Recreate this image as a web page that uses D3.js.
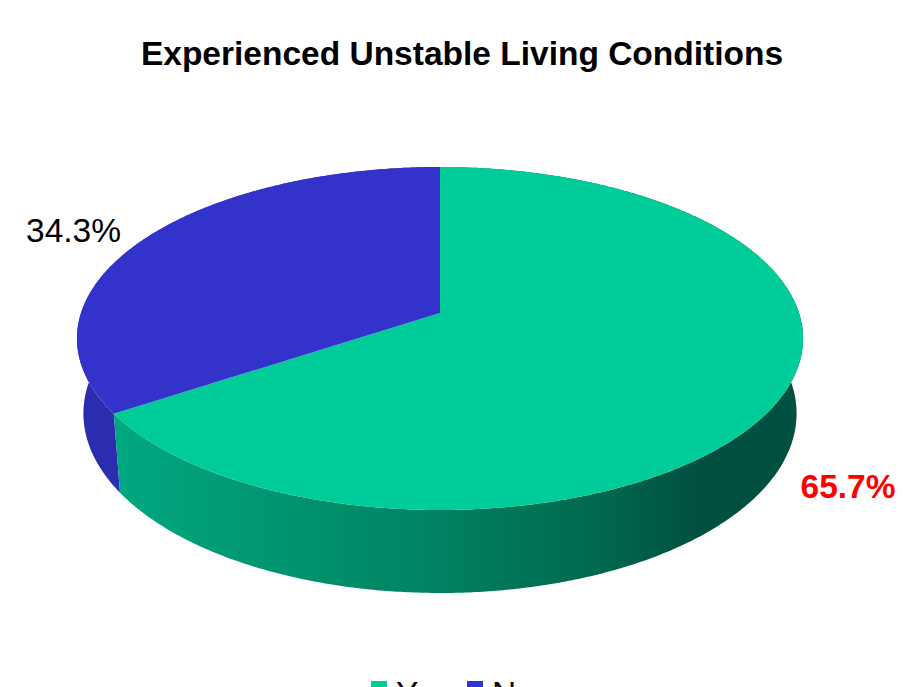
<!DOCTYPE html>
<html>
<head>
<meta charset="utf-8">
<script src="https://cdn.jsdelivr.net/npm/d3@7"></script>
<style>
html, body { margin: 0; padding: 0; background: #fff; overflow: hidden; }
text { font-family: "Liberation Sans", Arial, sans-serif; }
</style>
</head>
<body>
<svg id="chart" width="915" height="687"></svg>
<script>
var categories = ['Yes', 'No'];
var values = [65.7, 34.3];
var labels = ['65.7%', '34.3%'];
var topColors = ['#00cc99', '#3333cc'];
var wallColor = '#2c2cb0';
// shading of the green wall, left to right
var wallStops = [[0, '#00a880'], [0.45, '#008463'], [0.72, '#00664c'], [0.85, '#005040'], [1, '#005040']];

var svg = d3.select('#chart');

// the pie is a unit disc seen in perspective
var cx = 440, cy = 313;
var A = 359, B = 167.7, D = 75.6, k = 0.1487, m = 0.0177;
function project(angle, r, z) {
    var u = r * Math.sin(angle);
    var v = r * Math.cos(angle);
    var w = 1 + k * v + m * z;
    return [cx + A * u / w, cy + (-B * v + D * z) / w];
}

var slices = d3.pie().sort(null)(values);
var line = d3.line().curve(d3.curveLinearClosed);

function arcAngles(s) {
    var n = Math.ceil((s.endAngle - s.startAngle) * 120);
    return d3.range(n + 1).map(function (i) {
        return s.startAngle + (s.endAngle - s.startAngle) * i / n;
    });
}

var defs = svg.append('defs');
var grad = defs.append('linearGradient')
    .attr('id', 'wallGreen')
    .attr('gradientUnits', 'userSpaceOnUse')
    .attr('x1', 113).attr('x2', 803).attr('y1', 0).attr('y2', 0);
grad.selectAll('stop')
    .data(wallStops)
    .enter().append('stop')
    .attr('offset', function (d) { return d[0]; })
    .attr('stop-color', function (d) { return d[1]; });

// walls first, top faces are painted over them
svg.append('g').selectAll('path')
    .data(slices.slice().reverse())
    .enter().append('path')
    .attr('d', function (d) {
        var a = arcAngles(d);
        var top = a.map(function (t) { return project(t, 1, 0); });
        var bottom = a.slice().reverse().map(function (t) { return project(t, 1, 1); });
        return line(top.concat(bottom));
    })
    .attr('fill', function (d) { return d.index === 0 ? 'url(#wallGreen)' : wallColor; });

svg.append('g').selectAll('path')
    .data(slices)
    .enter().append('path')
    .attr('d', function (d) {
        var pts = arcAngles(d).map(function (t) { return project(t, 1, 0); });
        return line([project(0, 0, 0)].concat(pts));
    })
    .attr('fill', function (d) { return topColors[d.index]; });

// title
svg.append('text')
    .attr('x', 462).attr('y', 65)
    .attr('text-anchor', 'middle')
    .attr('font-size', 33.5)
    .attr('font-weight', 'bold')
    .text('Experienced Unstable Living Conditions');

// data labels
svg.append('text')
    .attr('x', 848).attr('y', 498)
    .attr('text-anchor', 'middle')
    .attr('font-size', 33.5)
    .attr('font-weight', 'bold')
    .attr('fill', '#ff0000')
    .text(labels[0]);
svg.append('text')
    .attr('x', 73.5).attr('y', 242)
    .attr('text-anchor', 'middle')
    .attr('font-size', 33.5)
    .text(labels[1]);

// legend, runs off the bottom of the picture
var legendX = d3.scaleOrdinal().domain(categories).range([371, 467]);
var legend = svg.append('g').selectAll('g')
    .data(categories)
    .enter().append('g')
    .attr('transform', function (d) { return 'translate(' + legendX(d) + ',0)'; });
legend.append('rect')
    .attr('y', 681).attr('width', 16).attr('height', 16)
    .attr('fill', function (d, i) { return topColors[i]; });
legend.append('text')
    .attr('x', 25).attr('y', 705)
    .attr('font-size', 33.5)
    .text(function (d) { return d; });
</script>
</body>
</html>
